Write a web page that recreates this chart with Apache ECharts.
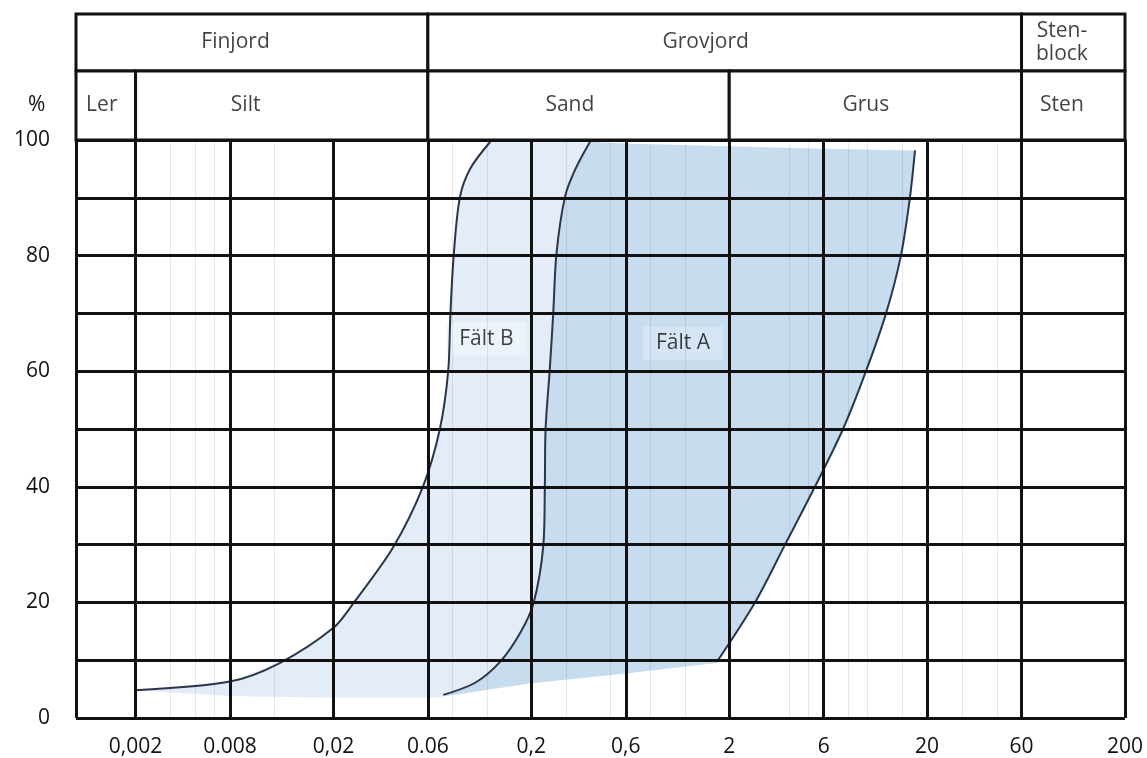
<!DOCTYPE html>
<html>
<head>
<meta charset="utf-8">
<script src="https://cdn.jsdelivr.net/npm/echarts@6/dist/echarts.min.js"></script>
<style>
  html, body { margin: 0; padding: 0; background: #fff; }
  #kornkurva { width: 1147px; height: 758px; }
</style>
</head>
<body>
<div id="kornkurva"></div>
<script>
var kornkurva = echarts.init(document.getElementById("kornkurva"));

// x-axeln: kornstorlek (mm), logaritmisk
let xTicks = [0.002, 0.006, 0.02, 0.06, 0.2, 0.6, 2, 6, 20, 60, 200];
let xTickLabels = ["0,002", "0.008", "0,02", "0.06", "0,2", "0,6", "2", "6", "20", "60", "200"];
let majorLinesX = [0.001, 0.002, 0.006, 0.02, 0.06, 0.2, 0.6, 2, 6, 20, 60, 200];
let minorLinesX = [0.003, 0.004, 0.005, 0.01, 0.08, 0.12, 0.3, 0.5, 0.8, 1.2, 4, 5, 8, 10, 15, 30, 45];
let linesY = [0, 10, 20, 30, 40, 50, 60, 70, 80, 90, 100];

// rubrikrader
let row1Cells = [[0.001, 0.06], [0.06, 60], [60, 200]];
let row1Names = ["Finjord", "Grovjord", "Sten-\nblock"];
let row1LabelX = [0.0064, 1.52, 96];
let row2Cells = [[0.001, 0.002], [0.002, 0.06], [0.06, 2], [2, 60], [60, 200]];
let row2Names = ["Ler", "Silt", "Sand", "Grus", "Sten"];
let row2LabelX = [0.00135, 0.0072, 0.313, 9.8, 96];

// kurvor [mm, %]
let curveB = [[0.002, 4.8], [0.006, 6.3], [0.0107, 9.5], [0.02, 15.6], [0.0254, 20], [0.04, 29.5],
  [0.0566, 40], [0.069, 50], [0.076, 60], [0.078, 70], [0.081, 80], [0.087, 90], [0.098, 95], [0.124, 99.7]];
let curveA = [[0.0718, 4], [0.104, 6.1], [0.139, 9.7], [0.175, 14.6], [0.205, 19.8], [0.23, 29.9],
  [0.234, 40], [0.236, 50], [0.248, 60.5], [0.258, 70], [0.268, 80.4], [0.296, 90.2], [0.332, 94.8], [0.396, 99.7]];
let curveC = [[1.73, 9.7], [2.7, 20], [3.83, 30], [5.42, 40], [7.52, 50], [9.82, 60],
  [12.4, 70], [14.75, 80], [16.37, 90], [17.37, 98.2]];

// kanter for ytorna
let topB = [[0.124, 99.7], [0.396, 99.7]];
let bottomB = [[0.0718, 3.6], [0.06, 3.5], [0.02, 3.5], [0.006, 3.8], [0.003, 4.4]];
let topA = [[0.396, 99.7], [0.6, 99.4], [2, 98.9], [6, 98.5], [17.37, 98.2]];
let bottomA = [[1.73, 9.5], [0.6, 7.7], [0.2, 6], [0.0718, 3.7]];

let fieldNames = ["Fält B", "Fält A"];
let fieldLabelPos = [[0.1186, 65.6], [1.167, 64.9]];

let polyB = curveB.concat(topB, curveA.slice().reverse(), bottomB);
let polyA = curveA.concat(topA, curveC.slice().reverse(), bottomA);

let font = "Open Sans";
let textColor = "#111";
let lineBlack = "#111";
let fontSize = 21;

function fill(points, color) {
  return {
    type: "custom",
    xAxisIndex: 0,
    yAxisIndex: 0,
    z: 1,
    silent: true,
    data: [[0.01, 50]],
    renderItem: function (params, api) {
      return {
        type: "polygon",
        shape: { points: points.map(function (p) { return api.coord(p); }) },
        style: { fill: color }
      };
    }
  };
}

function curve(points) {
  return {
    type: "line",
    xAxisIndex: 0,
    yAxisIndex: 0,
    z: 3,
    silent: true,
    data: points,
    smooth: 0.3,
    showSymbol: false,
    lineStyle: { color: "#2a364a", width: 2 }
  };
}

function headerRow(idx, cells, names, labelX) {
  return {
    type: "scatter",
    xAxisIndex: idx,
    yAxisIndex: idx,
    silent: true,
    symbolSize: 1,
    itemStyle: { color: "transparent" },
    data: names.map(function (n, i) { return { name: n, value: [labelX[i], 0.5] }; }),
    label: {
      show: true,
      position: "inside",
      formatter: "{b}",
      fontFamily: font,
      fontSize: fontSize,
      lineHeight: 23,
      color: textColor
    },
    markArea: {
      silent: true,
      label: { show: false },
      itemStyle: { color: "#fff", borderColor: lineBlack, borderWidth: 3 },
      data: cells.map(function (c) { return [{ xAxis: c[0], yAxis: 0 }, { xAxis: c[1], yAxis: 1 }]; })
    }
  };
}

function hiddenLogX(gridIndex) {
  return { type: "log", gridIndex: gridIndex, min: 0.001, max: 200, show: false };
}
function hiddenY(gridIndex) {
  return { type: "value", gridIndex: gridIndex, min: 0, max: 1, show: false };
}

function gridLines(values, dim, style, z) {
  return {
    type: "line",
    xAxisIndex: 0,
    yAxisIndex: 0,
    data: [],
    z: z,
    clip: false,
    markLine: {
      silent: true,
      precision: 8,
      symbol: ["none", "none"],
      label: { show: false },
      lineStyle: style,
      data: values.map(function (v) { let d = {}; d[dim] = v; return d; })
    }
  };
}

kornkurva.setOption({
  animation: false,
  title: {
    text: "%",
    left: 23,
    top: 90,
    textStyle: { fontFamily: font, fontSize: fontSize, fontWeight: "normal", color: textColor }
  },
  grid: [
    { left: 76, right: 22, top: 140, bottom: 40 },
    { left: 76, right: 22, top: 14, height: 57 },
    { left: 76, right: 22, top: 71, height: 69 }
  ],
  xAxis: [
    {
      type: "log",
      gridIndex: 0,
      min: 0.001,
      max: 200,
      axisLine: { show: false },
      axisTick: { show: false },
      splitLine: { show: false },
      minorTick: { show: false },
      axisLabel: {
        customValues: xTicks,
        margin: 19,
        fontFamily: font,
        fontSize: fontSize,
        color: textColor,
        formatter: function (v) {
          let i = xTicks.findIndex(function (t) { return Math.abs(t - v) / t < 1e-6; });
          return i >= 0 ? xTickLabels[i] : "";
        }
      }
    },
    hiddenLogX(1),
    hiddenLogX(2)
  ],
  yAxis: [
    {
      type: "value",
      gridIndex: 0,
      min: 0,
      max: 100,
      interval: 10,
      axisLine: { show: false },
      axisTick: { show: false },
      splitLine: { show: false },
      axisLabel: {
        margin: 26,
        fontFamily: font,
        fontSize: fontSize,
        color: textColor,
        formatter: function (v) { return v % 20 === 0 ? v : ""; }
      }
    },
    hiddenY(1),
    hiddenY(2)
  ],
  series: [
    fill(polyB, "#e4edf7"),
    fill(polyA, "#c8dcf0"),
    gridLines(minorLinesX, "xAxis", { color: "rgba(0,0,0,0.09)", width: 1, type: "solid" }, 2),
    {
      type: "scatter",
      xAxisIndex: 0,
      yAxisIndex: 0,
      silent: true,
      z: 2,
      symbolSize: 1,
      itemStyle: { color: "transparent" },
      data: fieldNames.map(function (n, i) {
        return {
          name: n,
          value: fieldLabelPos[i],
          label: { backgroundColor: i === 0 ? "#eef4fa" : "#d8e7f5" }
        };
      }),
      label: {
        show: true,
        position: "inside",
        formatter: "{b}",
        fontFamily: font,
        fontSize: fontSize,
        color: textColor,
        padding: [6, 13, 6, 13]
      }
    },
    curve(curveB),
    curve(curveA),
    curve(curveC),
    gridLines(majorLinesX, "xAxis", { color: lineBlack, width: 3, type: "solid" }, 4),
    gridLines(linesY, "yAxis", { color: lineBlack, width: 3, type: "solid" }, 4),
    headerRow(1, row1Cells, row1Names, row1LabelX),
    headerRow(2, row2Cells, row2Names, row2LabelX)
  ]
});
</script>
</body>
</html>
